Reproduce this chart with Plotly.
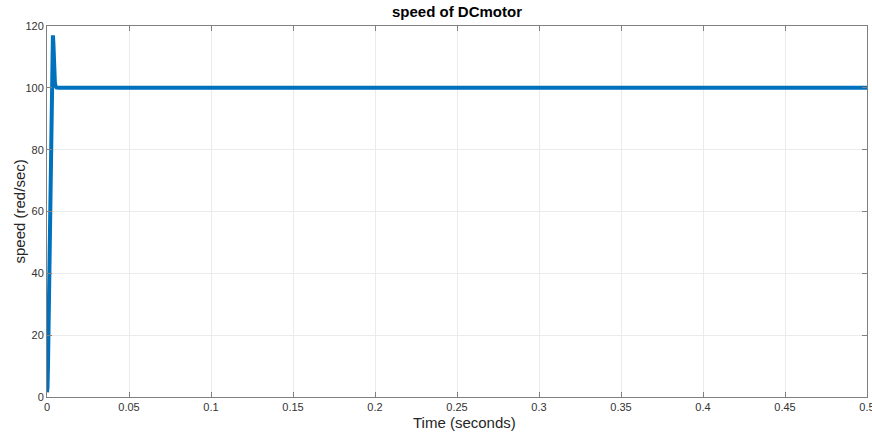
import plotly.graph_objects as go

# Motor speed response (time in seconds, speed in rad/sec)
time_s = [0.0, 0.0003, 0.0006, 0.0009, 0.0012, 0.0015, 0.0018, 0.0021, 0.0024,
          0.0027, 0.0030, 0.0033, 0.0036, 0.0039, 0.0042, 0.0045, 0.0048,
          0.0052, 0.0058, 0.0070, 0.0100, 0.5]
speed = [1.5, 3.0, 10.0, 22.0, 35.0, 48.0, 62.0, 78.0, 92.0,
         103.0, 106.0, 112.0, 117.0, 114.5, 108.0, 104.0, 101.8,
         100.6, 100.1, 100.0, 100.0, 100.0]

x_ticks = [0, 0.05, 0.1, 0.15, 0.2, 0.25, 0.3, 0.35, 0.4, 0.45, 0.5]
x_tick_text = ["0", "0.05", "0.1", "0.15", "0.2", "0.25", "0.3", "0.35", "0.4", "0.45", "0.5"]
y_ticks = [0, 20, 40, 60, 80, 100, 120]

font_family = "Liberation Sans, Arial, sans-serif"
axis_color = "#808080"
grid_color = "#ebebeb"
text_color = "#333333"

W, H = 872, 432
L, R, T, B = 47, 5, 26, 35

fig = go.Figure()
fig.add_trace(go.Scatter(
    x=time_s, y=speed, mode="lines",
    line=dict(color="#0072BD", width=4),
    showlegend=False,
))

axis_common = dict(
    showline=True, linecolor=axis_color, linewidth=1, mirror="ticks",
    ticks="inside", ticklen=5, tickcolor=axis_color,
    showgrid=True, gridcolor=grid_color, gridwidth=1,
    zeroline=False, ticklabeloverflow="allow", automargin=False,
    tickfont=dict(family=font_family, size=11, color=text_color),
)

fig.update_layout(
    width=W, height=H,
    margin=dict(l=L, r=R, t=T, b=B, autoexpand=False),
    paper_bgcolor="white", plot_bgcolor="white",
    title=dict(
        text="<b>speed of DCmotor</b>",
        x=0.5, xref="paper", xanchor="center",
        y=1 - 12 / H, yanchor="middle",
        font=dict(family=font_family, size=15, color="#000000"),
    ),
    xaxis=dict(range=[0, 0.5], tickvals=x_ticks, ticktext=x_tick_text, **axis_common),
    yaxis=dict(range=[0, 120], tickvals=y_ticks, **axis_common),
    annotations=[
        dict(text="Time (seconds)", xref="paper", yref="paper",
             x=(464 - L) / (W - L - R), y=0, yshift=-15, xanchor="center", yanchor="top",
             showarrow=False,
             font=dict(family=font_family, size=15, color="#262626")),
        dict(text="speed (red/sec)", xref="paper", yref="paper",
             x=0, xshift=-28, y=0.5, xanchor="center", yanchor="middle",
             textangle=-90, showarrow=False,
             font=dict(family=font_family, size=15, color="#262626")),
    ],
)

fig.write_html("out.html")
